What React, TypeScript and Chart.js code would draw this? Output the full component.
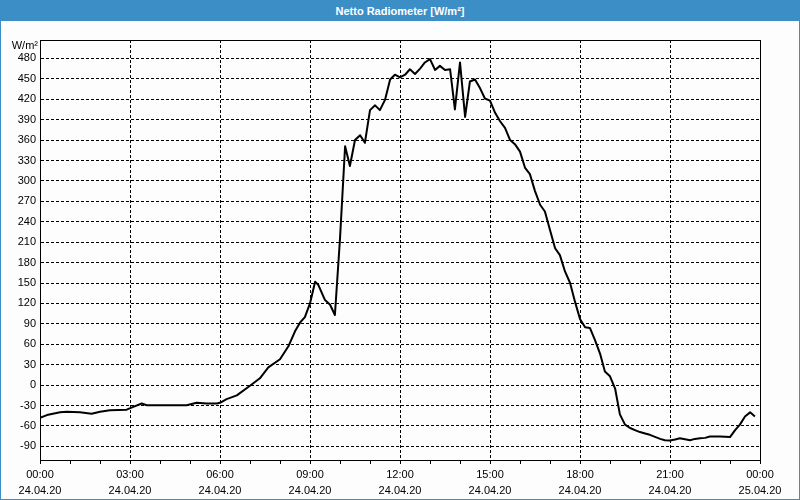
import React, { useEffect, useRef } from "react";
import { Chart, registerables } from "chart.js";

Chart.register(...registerables);

const TITLE = "Netto Radiometer [W/m²]";
const UNIT = "W/m²";

// time of day in hours (24.04.20)
const HOURS = [
  0.0, 0.23, 0.67, 0.89, 1.33, 1.72, 2.0, 2.33, 2.89, 3.11, 3.39, 3.56, 4.89, 5.22, 5.56, 5.89,
  6.0, 6.22, 6.56, 7.0, 7.33, 7.61, 8.0, 8.28, 8.5, 8.67, 8.83, 9.0, 9.17, 9.28, 9.5, 9.67,
  9.83, 10.0, 10.17, 10.33, 10.5, 10.67, 10.83, 11.0, 11.17, 11.33, 11.5, 11.67, 11.83, 12.0,
  12.17, 12.33, 12.5, 12.67, 12.83, 13.0, 13.17, 13.33, 13.5, 13.67, 13.83, 14.0, 14.17, 14.33,
  14.5, 14.67, 14.83, 15.0, 15.17, 15.33, 15.5, 15.67, 15.83, 16.0, 16.17, 16.33, 16.5, 16.67,
  16.83, 17.0, 17.17, 17.33, 17.5, 17.67, 17.83, 18.0, 18.17, 18.33, 18.5, 18.67, 18.83, 19.0,
  19.17, 19.33, 19.5, 19.67, 19.83, 20.0, 20.17, 20.33, 20.5, 20.67, 20.83, 21.0, 21.17, 21.33,
  21.5, 21.67, 21.83, 22.0, 22.17, 22.33, 22.67, 23.0, 23.17, 23.33, 23.5, 23.67, 23.83,
];

// net radiation in W/m²
const VALUES = [
  -48, -44, -40, -39, -40, -42, -39, -37, -36, -32, -27, -29.5, -29.5, -26, -27, -27,
  -26, -20.5, -15, -1, 10, 26, 38, 57, 79, 92, 100, 120, 152, 147, 125, 118,
  103, 215, 351, 322, 360, 367, 356, 404, 411, 404, 419, 449, 456, 452,
  456, 464, 457, 465, 474, 479, 463, 469, 463, 464, 405, 474, 394, 446,
  449, 436, 421, 418, 400, 388, 378, 360, 354, 343, 319, 310, 285, 265,
  255, 228, 201, 191, 167, 150, 123, 97, 85, 84, 66, 46, 20, 13,
  -5, -43, -58, -63, -66, -69, -71, -73, -76, -79, -81, -81.5, -80, -78,
  -79.5, -81, -79, -78, -77.5, -75.5, -75.5, -76.3, -66, -58, -46, -40, -46,
];

const TIME_LABELS = ["00:00", "03:00", "06:00", "09:00", "12:00", "15:00", "18:00", "21:00", "00:00"];
const DATE_LABELS = ["24.04.20", "24.04.20", "24.04.20", "24.04.20", "24.04.20", "24.04.20", "24.04.20", "24.04.20", "25.04.20"];

const FONT = "'Liberation Sans', Arial, sans-serif";
const BLUE = "#3b8ec6";

export default function App() {
  const ref = useRef<HTMLCanvasElement>(null);

  useEffect(() => {
    document.body.style.margin = "0";
    const canvas = ref.current;
    if (!canvas) return;

    const framePlugin = {
      id: "frame",
      afterDraw(chart: any) {
        const { ctx, chartArea: a } = chart;
        ctx.save();
        ctx.strokeStyle = "#000";
        ctx.lineWidth = 1;
        ctx.setLineDash([]);
        ctx.strokeRect(a.left + 0.5, a.top + 0.5, a.right - a.left, a.bottom - a.top);
        ctx.fillStyle = "#000";
        ctx.font = `11px ${FONT}`;
        ctx.textAlign = "right";
        ctx.textBaseline = "middle";
        ctx.fillText(UNIT, a.left - 2, a.top + 6);
        ctx.restore();
      },
    };

    const chart = new Chart(canvas, {
      type: "line",
      data: {
        datasets: [
          {
            data: HOURS.map((h, i) => ({ x: h, y: VALUES[i] })),
            borderColor: "#000",
            borderWidth: 2,
            borderJoinStyle: "round",
            pointRadius: 0,
            tension: 0,
            fill: false,
          },
        ],
      },
      options: {
        animation: false,
        responsive: false,
        layout: { padding: { top: 19, right: 39, left: 0, bottom: 0 } },
        plugins: { legend: { display: false }, title: { display: false }, tooltip: { enabled: false } },
        scales: {
          x: {
            type: "linear",
            min: 0,
            max: 24,
            afterFit: (s: any) => {
              s.height = 39;
            },
            ticks: {
              stepSize: 1,
              autoSkip: false,
              maxRotation: 0,
              color: "#000",
              padding: 3,
              font: { family: FONT, size: 11, lineHeight: "16px" },
              callback: (v: any) => {
                const n = Number(v);
                if (n % 3 !== 0) return "";
                const i = n / 3;
                return [TIME_LABELS[i], DATE_LABELS[i]];
              },
            },
            grid: {
              color: (ctx: any) => {
                const v = ctx.tick ? ctx.tick.value : 0;
                return v % 3 === 0 && v !== 0 && v !== 24 ? "#000" : "rgba(0,0,0,0)";
              },
              lineWidth: 1,
              drawTicks: true,
              tickLength: 4,
              tickColor: "#000",
              tickBorderDash: [],
            },
            border: { display: true, color: "#000", dash: [3, 2] },
          },
          y: {
            type: "linear",
            min: -110,
            max: 507,
            afterFit: (s: any) => {
              s.width = 39;
            },
            afterBuildTicks: (s: any) => {
              s.ticks = s.ticks.filter((t: any) => t.value % 30 === 0 && t.value >= -90 && t.value <= 480);
            },
            ticks: {
              stepSize: 30,
              includeBounds: false,
              color: "#000",
              padding: 4,
              font: { family: FONT, size: 11 },
            },
            grid: {
              color: "#000",
              lineWidth: 1,
              drawTicks: false,
            },
            border: { display: true, color: "#000", dash: [3, 2] },
          },
        },
      },
      plugins: [framePlugin],
    });

    return () => chart.destroy();
  }, []);

  return (
    <div
      style={{
        position: "absolute",
        left: 0,
        top: 0,
        width: 800,
        height: 500,
        boxSizing: "border-box",
        border: `1px solid ${BLUE}`,
        background: "#fcfdfc",
        overflow: "hidden",
      }}
    >
      <div
        style={{
          height: 20,
          lineHeight: "20px",
          background: BLUE,
          color: "#fff",
          textAlign: "center",
          fontFamily: FONT,
          fontWeight: "bold",
          fontSize: 11,
        }}
      >
        {TITLE}
      </div>
      <canvas ref={ref} width={798} height={478} style={{ display: "block" }} />
    </div>
  );
}
